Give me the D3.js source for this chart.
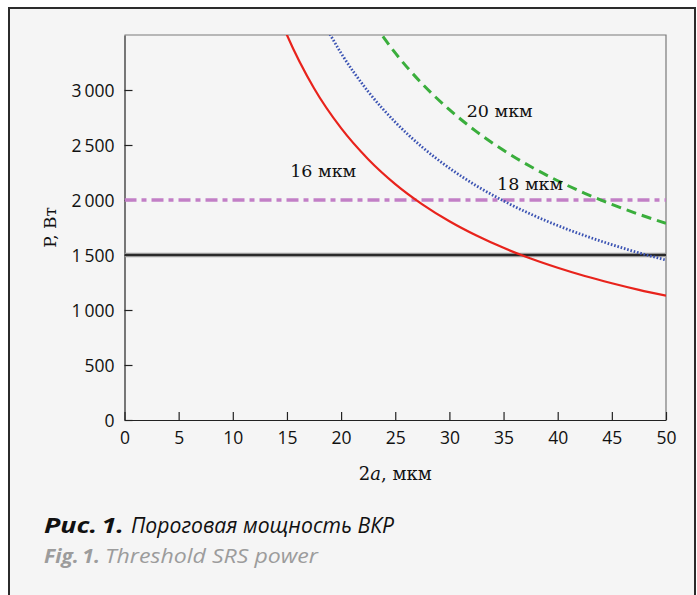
<!DOCTYPE html>
<html>
<head>
<meta charset="utf-8">
<script src="https://cdn.jsdelivr.net/npm/d3@7"></script>
<style>
  html, body { margin: 0; padding: 0; background: #fff; }
  svg { display: block; }
</style>
</head>
<body>
<svg id="chart"></svg>
<script>
// values
const xTicks = [0, 5, 10, 15, 20, 25, 30, 35, 40, 45, 50];
const yTicks = [0, 500, 1000, 1500, 2000, 2500, 3000];

const red16x = [14.5, 15, 17.5, 20, 22.5, 25, 27.5, 30, 32.5, 35, 37.5, 40, 42.5, 45, 47.5, 50];
const red16y = [3616, 3500, 3016, 2653, 2371, 2145, 1961, 1807, 1677, 1565, 1468, 1384, 1309, 1243, 1183, 1130];

const blue18x = [18.5, 20, 22.5, 25, 27.5, 30, 32.5, 35, 37.5, 40, 42.5, 45, 47.5, 50];
const blue18y = [3589, 3335, 2986, 2708, 2480, 2290, 2129, 1992, 1872, 1768, 1676, 1594, 1520, 1454];

const green20x = [23, 25, 27.5, 30, 32.5, 35, 37.5, 40, 42.5, 45, 47.5, 50];
const green20y = [3606, 3337, 3055, 2821, 2622, 2452, 2304, 2175, 2061, 1960, 1870, 1788];

const levels = [2000, 1500];
const labels = [
  { text: "16 мкм", x: 15.3, y: 2209 },
  { text: "18 мкм", x: 34.4, y: 2091 },
  { text: "20 мкм", x: 31.6, y: 2755 }
];

const width = 697, height = 595;
const svg = d3.select("#chart").attr("width", width).attr("height", height);

// panel
svg.append("rect")
  .attr("x", 9).attr("y", 8)
  .attr("width", 686).attr("height", 600)
  .attr("fill", "#f5f5f5")
  .attr("stroke", "#2b2b2b")
  .attr("stroke-width", 2);

const x = d3.scaleLinear().domain([0, 50]).range([124.5, 666]);
const y = d3.scaleLinear().domain([0, 3500]).range([420, 35]);

svg.append("clipPath").attr("id", "plot")
  .append("rect")
  .attr("x", x(0)).attr("y", y(3500))
  .attr("width", x(50) - x(0)).attr("height", y(0) - y(3500));

// top and right frame
svg.append("path")
  .attr("d", `M${x(0)},${y(3500)}H${x(50)}V${y(0)}`)
  .attr("fill", "none")
  .attr("stroke", "#7a7a7a")
  .attr("stroke-width", 1.2);

const tickFont = "'Open Sans', 'Liberation Sans', sans-serif";
const fmt = d => d >= 1000 ? d3.format(",")(d).replace(",", "\u2009") : String(d);

const gx = svg.append("g")
  .attr("transform", `translate(0,${y(0)})`)
  .call(d3.axisBottom(x).tickValues(xTicks).tickSizeInner(-8).tickSizeOuter(0).tickPadding(12));
const gy = svg.append("g")
  .attr("transform", `translate(${x(0)},0)`)
  .call(d3.axisLeft(y).tickValues(yTicks).tickSizeInner(-8).tickSizeOuter(0).tickPadding(10).tickFormat(fmt));

[gx, gy].forEach(g => {
  g.select(".domain").attr("stroke", "#222").attr("stroke-width", 1.2);
  g.selectAll(".tick line").attr("stroke", "#222").attr("stroke-width", 1.2);
  g.selectAll(".tick text")
    .attr("fill", "#111")
    .style("font-family", tickFont)
    .style("font-size", "17.5px");
});
gy.selectAll(".tick text").attr("dy", "0.35em");

const plot = svg.append("g").attr("clip-path", "url(#plot)");

// threshold levels
plot.append("line")
  .attr("x1", x(0)).attr("x2", x(50))
  .attr("y1", y(levels[0])).attr("y2", y(levels[0]))
  .attr("stroke", "#c27fc6")
  .attr("stroke-width", 3.5)
  .attr("stroke-dasharray", "12,5,5,5");

plot.append("line")
  .attr("x1", x(0)).attr("x2", x(50))
  .attr("y1", y(levels[1])).attr("y2", y(levels[1]))
  .attr("stroke", "#9a9a9a")
  .attr("stroke-width", 4.5);
plot.append("line")
  .attr("x1", x(0)).attr("x2", x(50))
  .attr("y1", y(levels[1])).attr("y2", y(levels[1]))
  .attr("stroke", "#2a2a2a")
  .attr("stroke-width", 2.2);

const line = d3.line()
  .x(d => x(d[0]))
  .y(d => y(d[1]))
  .curve(d3.curveMonotoneX);

const series = [
  { xs: green20x, ys: green20y, color: "#3aae3c", w: 3, dash: "10,6" },
  { xs: blue18x, ys: blue18y, color: "#3b53b3", w: 2.8, dash: "1.6,1.8" },
  { xs: red16x, ys: red16y, color: "#e8231c", w: 2.2, dash: null }
];

series.forEach(s => {
  plot.append("path")
    .datum(s.xs.map((v, i) => [v, s.ys[i]]))
    .attr("fill", "none")
    .attr("stroke", s.color)
    .attr("stroke-width", s.w)
    .attr("stroke-dasharray", s.dash)
    .attr("d", line);
});

const serif = "'DejaVu Serif', 'Liberation Serif', serif";

// curve labels
svg.selectAll(".lbl").data(labels).enter().append("text")
  .attr("class", "lbl")
  .attr("x", d => x(d.x))
  .attr("y", d => y(d.y))
  .attr("fill", "#111")
  .style("font-family", serif)
  .style("font-size", "17.5px")
  .text(d => d.text);

// axis titles
const xt = svg.append("text")
  .attr("x", (x(0) + x(50)) / 2)
  .attr("y", 480)
  .attr("text-anchor", "middle")
  .attr("fill", "#111")
  .style("font-family", serif)
  .style("font-size", "18px");
xt.append("tspan").text("2");
xt.append("tspan").style("font-style", "italic").text("a");
xt.append("tspan").text(", мкм");

svg.append("text")
  .attr("transform", `translate(56,${(y(0) + y(3500)) / 2}) rotate(-90)`)
  .attr("text-anchor", "middle")
  .attr("fill", "#111")
  .style("font-family", serif)
  .style("font-size", "17px")
  .text("P, Вт");

// caption
const capFont = "'Open Sans', 'Liberation Sans', sans-serif";
const caption = [
  { text: "Рис.\u20091.", x: 44, y: 533, len: 80, bold: true, color: "#111", size: 22 },
  { text: "Пороговая мощность ВКР", x: 131, y: 533, len: 263, bold: false, color: "#111", size: 21 },
  { text: "Fig.\u20091.", x: 44, y: 563, len: 56, bold: true, color: "#9c9c9c", size: 20 },
  { text: "Threshold SRS power", x: 105, y: 563, len: 213, bold: false, color: "#9c9c9c", size: 20 }
];
svg.selectAll(".cap").data(caption).enter().append("text")
  .attr("class", "cap")
  .attr("x", d => d.x)
  .attr("y", d => d.y)
  .attr("textLength", d => d.len)
  .attr("lengthAdjust", "spacingAndGlyphs")
  .attr("fill", d => d.color)
  .style("font-family", capFont)
  .style("font-style", "italic")
  .style("font-weight", d => d.bold ? "bold" : "normal")
  .style("font-size", d => d.size + "px")
  .text(d => d.text);
</script>
</body>
</html>
